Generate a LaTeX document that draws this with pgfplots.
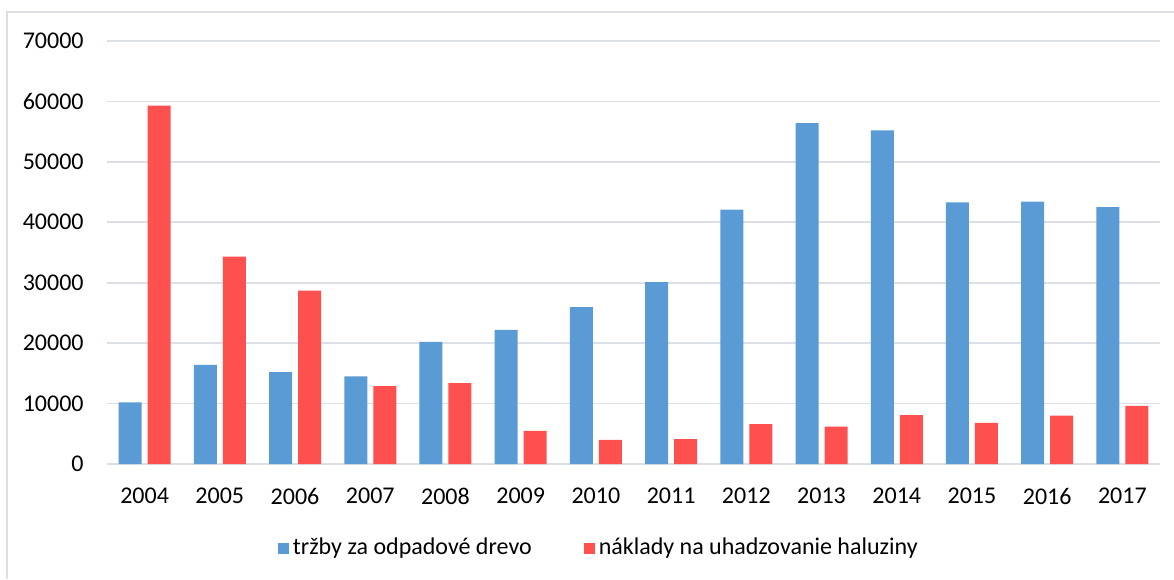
\documentclass[border=0pt]{standalone}
\usepackage{pgfplots}
\pgfplotsset{compat=1.18}
\usepackage{fontspec}
\setmainfont{Carlito}
\definecolor{cblue}{HTML}{5B9BD5}
\definecolor{cred}{HTML}{FF5050}
\definecolor{cgrid}{HTML}{DCE0E6}
\begin{document}
\begin{tikzpicture}[font=\fontsize{12}{14}\selectfont]
\useasboundingbox (0,0) rectangle (587pt,289.5pt);
\draw[cgrid, line width=1pt] (3.5pt,0) -- (3.5pt,283.5pt) -- (587pt,283.5pt);
\begin{axis}[
  at={(53.5pt,57.5pt)}, anchor=south west,
  scale only axis, width=526.5pt, height=211.5pt,
  ybar=3pt, bar width=11.5pt,
  xmin=-0.5, xmax=13.5, ymin=0, ymax=70000,
  xtick={0,...,13},
  xticklabels={2004,2005,2006,2007,2008,2009,2010,2011,2012,2013,2014,2015,2016,2017},
  ytick={0,10000,...,70000},
  scaled y ticks=false,
  ymajorgrids, grid style={cgrid, line width=0.8pt},
  axis line style={draw=none},
  major tick length=0pt,
  /pgf/number format/.cd, fixed, set thousands separator={}, assume math mode=true,
  /pgfplots/.cd,
  yticklabel style={anchor=east, inner sep=0pt, xshift=-11.5pt},
  xticklabel style={anchor=north, inner sep=0pt, yshift=-12pt},
  legend style={at={(0.468,-0.1986)}, anchor=center, draw=none, legend columns=2,
    /tikz/every even column/.append style={column sep=24pt}, inner sep=0pt,
    font=\fontsize{12}{14}\selectfont},
  legend image code/.code={\fill[#1] (0pt,-2.75pt) rectangle (5.5pt,2.75pt);},
]
\addplot[fill=cblue, draw=none] coordinates {
(0,10200) (1,16400) (2,15200) (3,14500) (4,20200) (5,22200) (6,25950)
(7,30100) (8,42100) (9,56400) (10,55200) (11,43300) (12,43400) (13,42500)};
\addplot[fill=cred, draw=none] coordinates {
(0,59300) (1,34300) (2,28700) (3,12900) (4,13400) (5,5500) (6,4000)
(7,4100) (8,6600) (9,6200) (10,8100) (11,6800) (12,8000) (13,9600)};
\legend{tržby za odpadové drevo, náklady na uhadzovanie haluziny}
\end{axis}
\end{tikzpicture}
\end{document}
